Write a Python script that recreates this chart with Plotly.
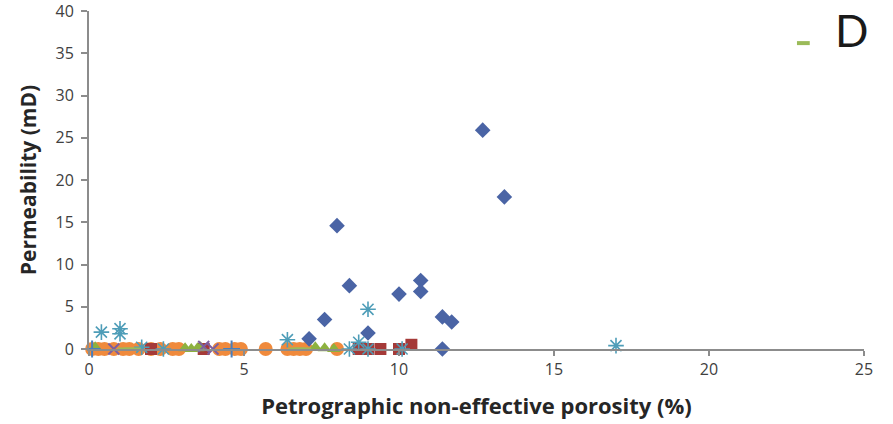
import plotly.graph_objects as go

# Blue diamonds
blue_x = [12.7, 13.4, 8.0, 8.4, 10.0, 10.7, 10.7, 7.6, 11.4, 11.7, 9.0, 7.1, 11.4]
blue_y = [25.9, 18.0, 14.6, 7.5, 6.5, 8.1, 6.8, 3.5, 3.8, 3.2, 1.9, 1.2, 0.0]

# Red squares
red_x = [2.0, 3.7, 8.7, 9.0, 9.4, 10.0, 10.4]
red_y = [0.0, 0.0, 0.0, 0.0, 0.0, 0.0, 0.5]

# Green triangles
green_x = [0.2, 3.1, 3.3, 3.5, 3.6, 7.3, 7.6, 7.9]
green_y = [0.2, 0.1, 0.0, 0.1, 0.2, 0.2, 0.1, 0.0]

# Purple crosses
purple_x = [0.8, 3.7, 4.0]
purple_y = [0.0, 0.3, 0.0]

# Teal asterisks
teal_x = [0.4, 1.0, 1.0, 1.7, 2.4, 6.4, 8.4, 8.7, 9.0, 9.0, 10.1, 17.0]
teal_y = [2.0, 2.4, 1.8, 0.2, 0.0, 1.1, 0.0, 0.8, 4.7, 0.0, 0.0, 0.4]

# Orange circles
orange_x = [0.1, 0.3, 0.5, 0.8, 1.1, 1.3, 1.6, 2.0, 2.3, 2.7, 2.9, 4.2, 4.4, 4.7, 4.9, 5.7,
            6.4, 6.6, 6.8, 7.0, 8.0]
orange_y = [0.0] * len(orange_x)

# Blue plus
plus_x = [0.1, 4.6]
plus_y = [0.0, 0.0]

# Light green dashes
dash_x = [1.2, 1.4, 6.7, 6.9]
dash_y = [0.0, 0.0, 0.0, 0.0]

x_ticks = [0, 5, 10, 15, 20, 25]
y_ticks = [0, 5, 10, 15, 20, 25, 30, 35, 40]

fig = go.Figure()
fig.add_trace(go.Scatter(x=orange_x, y=orange_y, mode="markers", cliponaxis=False,
                         marker=dict(symbol="circle", size=14, color="#F08A3C")))
fig.add_trace(go.Scatter(x=red_x, y=red_y, mode="markers", cliponaxis=False,
                         marker=dict(symbol="square", size=12, color="#A53A38")))
fig.add_trace(go.Scatter(x=green_x, y=green_y, mode="markers", cliponaxis=False,
                         marker=dict(symbol="triangle-up", size=12, color="#8DB13F")))
fig.add_trace(go.Scatter(x=purple_x, y=purple_y, mode="markers", cliponaxis=False,
                         marker=dict(symbol="x-thin", size=11, color="#7D5FA0",
                                     line=dict(color="#7D5FA0", width=2))))
fig.add_trace(go.Scatter(x=teal_x, y=teal_y, mode="markers", cliponaxis=False,
                         marker=dict(symbol="asterisk", size=13, color="#4E9DB8",
                                     line=dict(color="#4E9DB8", width=1.6))))
fig.add_trace(go.Scatter(x=plus_x, y=plus_y, mode="markers", cliponaxis=False,
                         marker=dict(symbol="cross-thin", size=12, color="#4A7EBB",
                                     line=dict(color="#4A7EBB", width=2))))
fig.add_trace(go.Scatter(x=dash_x, y=dash_y, mode="markers", cliponaxis=False,
                         marker=dict(symbol="line-ew", size=12, color="#9BBB59",
                                     line=dict(color="#9BBB59", width=3))))
fig.add_trace(go.Scatter(x=blue_x, y=blue_y, mode="markers", cliponaxis=False,
                         marker=dict(symbol="diamond", size=12, color="#4A64A5")))

fig.update_layout(
    width=893, height=424,
    margin=dict(l=89, r=29, t=11, b=75),
    paper_bgcolor="white", plot_bgcolor="white",
    showlegend=False,
    font=dict(family="'Open Sans', Lato, sans-serif", color="#404040"),
    shapes=[
        dict(type="line", xref="paper", yref="paper", x0=0.9135, x1=0.930,
             y0=0.905, y1=0.905, line=dict(color="#9BBB59", width=4)),
    ],
    annotations=[
        dict(text="D", xref="paper", yref="paper", x=0.984, y=0.945, yanchor="middle",
             xanchor="center", showarrow=False,
             font=dict(size=44, color="#1a1a1a", family="Lato")),
    ],
)
fig.update_xaxes(
    range=[0, 25], tickvals=x_ticks, showgrid=False, zeroline=False, automargin=False,
    showline=True, linecolor="#8C8C8C", linewidth=2, ticklabeloverflow="allow",
    ticks="outside", ticklen=5, tickcolor="#8C8C8C", tickwidth=2,
    tickfont=dict(size=16, color="#404040"),
    title=dict(text="<b>Petrographic non-effective porosity (%)</b>",
               font=dict(size=22, color="#262626"), standoff=19),
)
fig.update_yaxes(
    range=[0, 40], tickvals=y_ticks, showgrid=False, zeroline=False, automargin=False,
    showline=True, linecolor="#8C8C8C", linewidth=2, ticklabeloverflow="allow",
    ticks="outside", ticklen=6, tickcolor="#8C8C8C", tickwidth=2, ticklabelstandoff=4,
    tickfont=dict(size=16, color="#404040"),
    title=dict(text="<b>Permeability (mD)</b>",
               font=dict(size=21, color="#262626"), standoff=13),
)

fig.write_html("out.html", config={"displayModeBar": False},
               post_script="document.body.style.margin='0';")
